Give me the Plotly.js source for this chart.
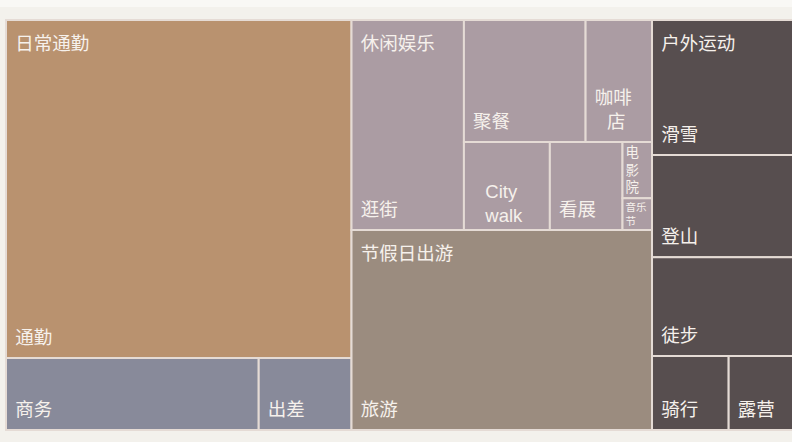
<!DOCTYPE html>
<html><head><meta charset="utf-8">
<script src="https://cdn.plot.ly/plotly-3.0.1.min.js"></script>
<style>html,body{margin:0;padding:0;overflow:hidden;width:792px;height:442px;background:linear-gradient(#f9f8f5 0px,#f9f8f5 7px,#f3f1ec 7px)}#chart{width:800px;height:442px}</style>
</head><body><div id="chart"></div>
<script>
// ---- data ----
const groups = ['日常通勤', '休闲娱乐', '节假日出游', '户外运动'];
const leafLabels = ['通勤', '商务', '出差', '逛街', '聚餐', '咖啡店', 'City walk', '看展', '电影院', '音乐节', '旅游', '滑雪', '登山', '徒步', '骑行', '露营'];
const leafParents = ['日常通勤', '日常通勤', '日常通勤', '休闲娱乐', '休闲娱乐', '休闲娱乐', '休闲娱乐', '休闲娱乐', '休闲娱乐', '休闲娱乐', '节假日出游', '户外运动', '户外运动', '户外运动', '户外运动', '户外运动'];
const leafValues = [360.1, 56.1, 20.6, 72.8, 45.8, 25.0, 23.3, 19.7, 5.1, 2.9, 185.3, 60.3, 45.8, 44.1, 17.5, 15.6];
const leafLines = ['通勤', '商务', '出差', '逛街', '聚餐', '咖啡\n店', 'City\nwalk', '看展', '电\n影\n院', '音乐\n节', '旅游', '滑雪', '登山', '徒步', '骑行', '露营'];

// ---- styles ----
const groupColor = {'日常通勤': '#b9926f', '休闲娱乐': '#ab9ca3', '节假日出游': '#9b8c7f', '户外运动': '#574e4f'};
const leafColorOverride = {'商务': '#888a9a', '出差': '#888a9a'};
const smallFont = {'电影院': 13.5, '音乐节': 10.5};
const lineIndent = {'咖啡店': [1, 3], 'City walk': [3, 3]};
const noStrut = {'City walk': true};
const FONT = "'Liberation Sans', 'Noto Sans CJK SC', sans-serif";
const TXT = '#f6f1ec';
const FS = 18.5;
const IND = '<span style="font-size:22px">\u00a0</span>';
const BOTTOM_STRUT = '<span style="font-size:50px">\u00a0</span>';
const TOP_STRUT = '<span style="font-size:30px">\u00a0</span>';

function leafHtml(label, txt) {
  const lines = txt.split('\n');
  if (smallFont[label]) return lines.join('<br>');
  const ind = lineIndent[label] || lines.map(() => 1);
  const out = lines.map((ln, k) => IND.repeat(ind[k]) + ln);
  if (!noStrut[label]) out[out.length - 1] += BOTTOM_STRUT;
  return out.join('<br>');
}

const ids = [], parents = [], values = [], text = [], colors = [], sizes = [];
groups.forEach(g => { ids.push(g); parents.push(''); values.push(0); text.push(''); colors.push(groupColor[g]); sizes.push(FS); });
leafLabels.forEach((l, i) => {
  const p = leafParents[i];
  ids.push(p + '/' + l); parents.push(p); values.push(leafValues[i]); text.push(leafHtml(l, leafLines[i]));
  colors.push(leafColorOverride[l] || groupColor[p]); sizes.push(smallFont[l] || FS);
});
const groupSums = groups.map(g => leafValues.filter((v, i) => leafParents[i] === g).reduce((a, b) => a + b, 0));

const main = {
  type: 'treemap', ids: ids, labels: ids, parents: parents, values: values, branchvalues: 'remainder',
  text: text, textinfo: 'text', textposition: 'bottom left',
  textfont: {family: FONT, size: sizes, color: TXT},
  marker: {colors: colors, line: {width: 2, color: '#e5dbd5'}, pad: {t: 0, l: 0, r: 0, b: 0}},
  tiling: {pad: 0}, pathbar: {visible: false}, leaf: {opacity: 1}, sort: true, hoverinfo: 'label+value'
};
const headers = {
  type: 'treemap', ids: groups, labels: groups, parents: groups.map(() => ''), values: groupSums,
  text: groups.map(g => IND + g + TOP_STRUT), textinfo: 'text', textposition: 'top left',
  textfont: {family: FONT, size: FS, color: TXT},
  marker: {colors: groups.map(() => 'rgba(0,0,0,0)'), line: {width: 0}, pad: {t: 0, l: 0, r: 0, b: 0}},
  tiling: {pad: 0}, pathbar: {visible: false}, leaf: {opacity: 1}, sort: true, hoverinfo: 'skip'
};
Plotly.newPlot('chart', [main, headers], {
  width: 800, height: 442, margin: {l: 6, r: 3, t: 20, b: 12},
  paper_bgcolor: 'rgba(0,0,0,0)', showlegend: false
}, {displayModeBar: false, staticPlot: true});
</script></body></html>
